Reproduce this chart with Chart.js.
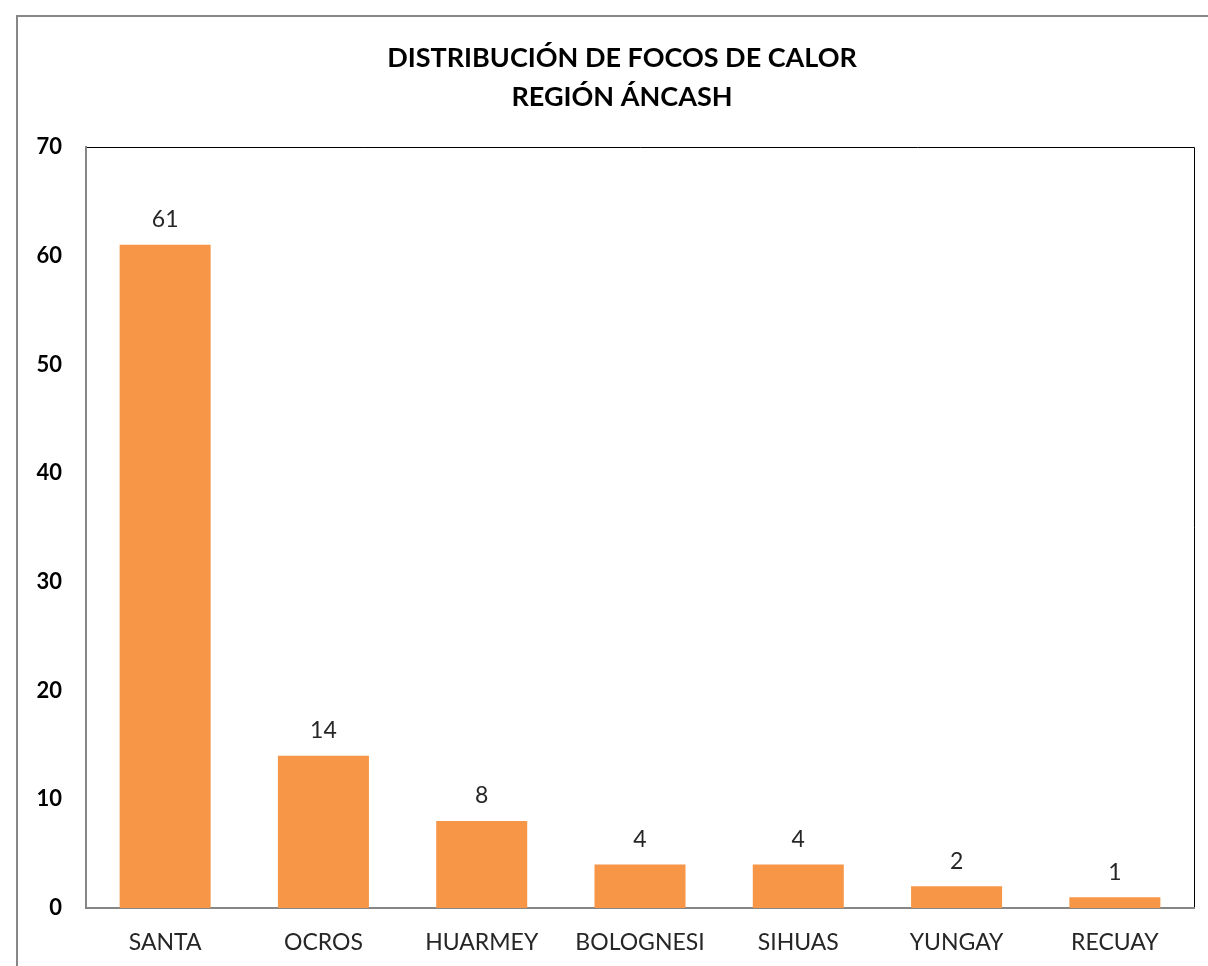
<!DOCTYPE html>
<html>
<head>
<meta charset="utf-8">
<script src="https://cdn.jsdelivr.net/npm/chart.js@4.4.1/dist/chart.umd.min.js"></script>
<style>
  html, body { margin: 0; padding: 0; background: #fff; }
  #wrap { width: 1208px; height: 966px; }
</style>
</head>
<body>
<div id="wrap"><canvas id="focosChart"></canvas></div>
<script>
var provincias = ['SANTA', 'OCROS', 'HUARMEY', 'BOLOGNESI', 'SIHUAS', 'YUNGAY', 'RECUAY'];
var focos = [61, 14, 8, 4, 4, 2, 1];
var tituloLineas = ['DISTRIBUCIÓN DE FOCOS DE CALOR', 'REGIÓN ÁNCASH'];

var fontFamily = 'Lato, "Open Sans", sans-serif';

// marco exterior, borde del area de trazado y etiquetas de valores
var extras = {
    id: 'extras',
    beforeDraw: function (chart) {
        var ctx = chart.ctx;
        ctx.save();
        ctx.fillStyle = '#fff';
        ctx.fillRect(0, 0, chart.width, chart.height);
        ctx.strokeStyle = '#878787';
        ctx.lineWidth = 2;
        ctx.strokeRect(17, 16, chart.width + 20, chart.height + 20);

        // titulo
        ctx.fillStyle = '#000';
        ctx.font = 'bold 27px ' + fontFamily;
        ctx.textAlign = 'center';
        ctx.textBaseline = 'middle';
        ctx.fillText(tituloLineas[0], 622, 58);
        ctx.fillText(tituloLineas[1], 622, 97);

        var a = chart.chartArea;
        ctx.strokeStyle = '#000';
        ctx.lineWidth = 1;
        ctx.beginPath();
        ctx.moveTo(a.left, a.top + 0.5);
        ctx.lineTo(a.right + 0.5, a.top + 0.5);
        ctx.lineTo(a.right + 0.5, a.bottom);
        ctx.stroke();
        ctx.restore();
    },
    afterDatasetsDraw: function (chart) {
        var ctx = chart.ctx;
        var meta = chart.getDatasetMeta(0);
        ctx.save();
        ctx.fillStyle = '#262626';
        ctx.font = '23px ' + fontFamily;
        ctx.textAlign = 'center';
        ctx.textBaseline = 'middle';
        meta.data.forEach(function (bar, i) {
            ctx.fillText(focos[i], bar.x, bar.y - 25);
        });
        ctx.restore();
    }
};

new Chart(document.getElementById('focosChart'), {
    type: 'bar',
    data: {
        labels: provincias,
        datasets: [{
            label: 'Focos de calor',
            data: focos,
            backgroundColor: '#F79646',
            borderWidth: 0,
            barPercentage: 0.575,
            categoryPercentage: 1.0
        }]
    },
    options: {
        responsive: true,
        maintainAspectRatio: false,
        animation: false,
        layout: {
            padding: { top: 147, right: 14, bottom: 12, left: 0 }
        },
        plugins: {
            legend: { display: false },
            title: { display: false },
            tooltip: { enabled: false }
        },
        scales: {
            x: {
                grid: { display: false, drawTicks: false },
                border: { display: true, color: '#868686', width: 2 },
                ticks: {
                    color: '#262626',
                    padding: 21,
                    font: { family: fontFamily, size: 23 },
                    maxRotation: 0
                },
                afterFit: function (scale) { scale.height = 46; }
            },
            y: {
                min: 0,
                max: 70,
                grid: { display: false, drawTicks: false },
                border: { display: true, color: '#868686', width: 2 },
                ticks: {
                    stepSize: 10,
                    color: '#000',
                    padding: 24,
                    font: { family: fontFamily, size: 22, weight: 'bold' }
                },
                afterFit: function (scale) { scale.width = 86; }
            }
        }
    },
    plugins: [extras]
});
</script>
</body>
</html>
